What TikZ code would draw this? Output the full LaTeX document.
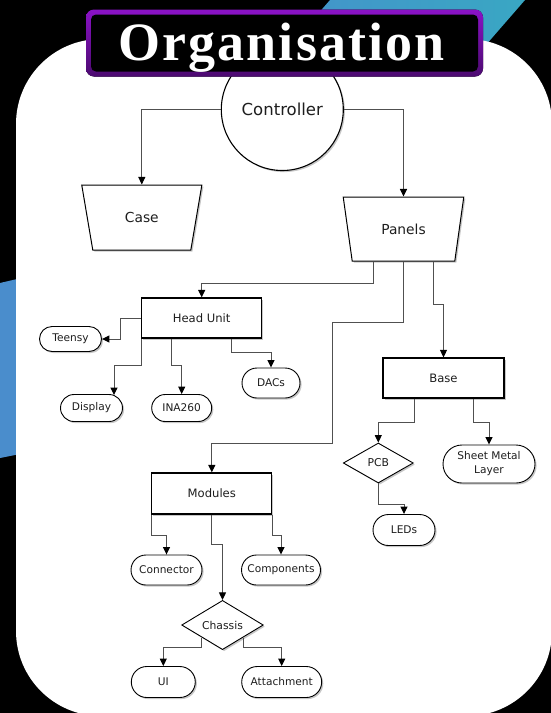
\documentclass[tikz,border=0pt]{standalone}
\usepackage{fontspec}
\setmainfont{DejaVu Sans}
\newfontfamily\titlefont[LetterSpace=4]{Liberation Serif}
\usetikzlibrary{shapes.geometric,shapes.misc,arrows.meta,calc,shadows}

\definecolor{bandA}{HTML}{4690CC}
\definecolor{bandB}{HTML}{39A7C3}
\definecolor{bandL}{HTML}{4A8DCC}
\definecolor{purpleTop}{HTML}{8A12C6}
\definecolor{purpleBot}{HTML}{4C0A70}
\definecolor{wire}{HTML}{505050}
\definecolor{ink}{HTML}{1E1E1E}

\begin{document}
\begin{tikzpicture}[x=1pt,y=-1pt,
  softshadow/.style={drop shadow={shadow xshift=1.6pt,shadow yshift=-1.6pt,fill=black,opacity=0.22}},
  box/.style={draw=black,line width=1.2pt,fill=white,softshadow,rectangle,inner sep=0pt,
    minimum width=120pt,minimum height=40pt,font=\fontsize{11.6}{13}\selectfont,text=ink},
  pill/.style={draw=black,line width=0.9pt,fill=white,softshadow,rounded rectangle,inner sep=0pt,
    minimum height=30pt,font=\fontsize{10.6}{12}\selectfont,text=ink},
  trap/.style={draw=black,line width=1pt,fill=white,softshadow,trapezium,shape border rotate=180,
    trapezium angle=70,trapezium stretches=true,inner sep=0pt,font=\fontsize{13.8}{15}\selectfont,text=ink},
  gem/.style={draw=black,line width=0.9pt,fill=white,softshadow,diamond,inner sep=0pt,
    minimum height=40pt,font=\fontsize{10.8}{12}\selectfont,text=ink},
  link/.style={draw=wire,line width=1pt,-{Triangle[length=7.5pt,width=7pt,color=black]}},
]
\useasboundingbox (0,0) rectangle (551,713);

% backdrop: black page, blue bands, white panel
\fill[black] (0,0) rectangle (551,713);
\shade[left color=bandA,right color=bandB] (330,0) -- (525,0) -- (438,100) -- (243,100) -- cycle;
\fill[bandL] (0,283) -- (30,276) -- (30,452) -- (0,458) -- cycle;
\fill[white,rounded corners=85pt] (16,39) rectangle (552,716);

% nodes
\node[circle,draw=black,line width=1.1pt,fill=white,softshadow,minimum size=122pt,inner sep=0pt,
  font=\fontsize{16.5}{18}\selectfont,text=ink] (ctrl) at (282.3,109.5) {\raisebox{-1.5pt}{Controller}};
\node[trap,minimum width=120.5pt,minimum height=65pt] (case) at (141.8,217.5) {Case};
\node[trap,minimum width=121pt,minimum height=64pt] (panels) at (403.5,229) {Panels};

\node[box] (hu) at (201.7,318) {Head Unit};
\node[box,minimum width=121pt] (base) at (443.5,378) {Base};
\node[box,minimum height=41pt] (mods) at (211.8,493.5) {Modules};

\node[pill,minimum width=62pt,minimum height=25pt] (teensy) at (70.5,339) {Teensy};
\node[pill,minimum width=62pt,minimum height=27pt] (display) at (91.5,408) {Display};
\node[pill,minimum width=60pt,minimum height=27pt] (ina) at (181.7,408) {INA260};
\node[pill,minimum width=58pt] (dacs) at (271,383) {DACs};

\node[gem,minimum width=70pt] (pcb) at (378.3,463) {PCB};
\node[pill,minimum width=92pt,minimum height=38pt,align=center,
  font=\fontsize{10.6}{14}\selectfont] (sheet) at (489,464) {Sheet Metal\\Layer};
\node[pill,minimum width=62pt,minimum height=31pt] (leds) at (404,530) {LEDs};

\node[pill,minimum width=71pt] (conn) at (166.5,570) {Connector};
\node[pill,minimum width=79pt] (comp) at (281,570) {Components};
\node[gem,minimum width=81.6pt] (chassis) at (222.5,625) {Chassis};
\node[pill,minimum width=64pt,minimum height=31pt] (ui) at (163.3,682) {UI};
\node[pill,minimum width=80pt,minimum height=31pt] (att) at (281.7,682) {Attachment};

% connectors
\draw[link] (ctrl.west) -| (case.north);
\draw[link] (ctrl.east) -| (panels.north);
\draw[link] ($(panels.south)+(-30.5,0)$) -- ++(0,22.4) -| (hu.north);
\draw[link] (panels.south) -- ++(0,61) -- ++(-71,0) -- ++(0,121) -| (mods.north);
\draw[link] ($(panels.south)+(29.5,0)$) -- ++(0,43) -| (base.north);

\draw[link] (hu.west) -- ++(-20.7,0) |- (teensy.east);
\draw[link] (hu.south west) -- ++(0,27) -| ($(display.north)+(22.5,1)$);
\draw[link] ($(hu.south)+(-30,0)$) -- ++(0,27) -| (ina.north);
\draw[link] ($(hu.south)+(30,0)$) -- ++(0,13.7) -| (dacs.north);

\draw[link] ($(base.south)+(-29.5,0)$) -- ++(0,23.7) -| (pcb.north);
\draw[link] ($(base.south)+(29.5,0)$) -- ++(0,23.7) -| (sheet.north);
\draw[link] (pcb.south) -- ++(0,21) -| (leds.north);

\draw[link] (mods.south west) -- ++(0,21) -| (conn.north);
\draw[link] (mods.south east) -- ++(0,21) -| (comp.north);
\draw[link] (mods.south) -- ++(0,30) -| (chassis.north);
\draw[link] (chassis.south west) -- ++(0,10) -| (ui.north);
\draw[link] (chassis.south east) -- ++(0,10) -| (att.north);

% title banner
\fill[top color=purpleTop,bottom color=purpleBot,rounded corners=8pt] (86,9.5) rectangle (483,76.5);
\fill[black,rounded corners=5pt] (91,14.5) rectangle (478,71.5);
\node[anchor=base,text=white,inner sep=0pt,
  font=\titlefont\bfseries\fontsize{54}{60}\selectfont] (title) at (281.5,60) {Organisation};
\end{tikzpicture}
\end{document}
